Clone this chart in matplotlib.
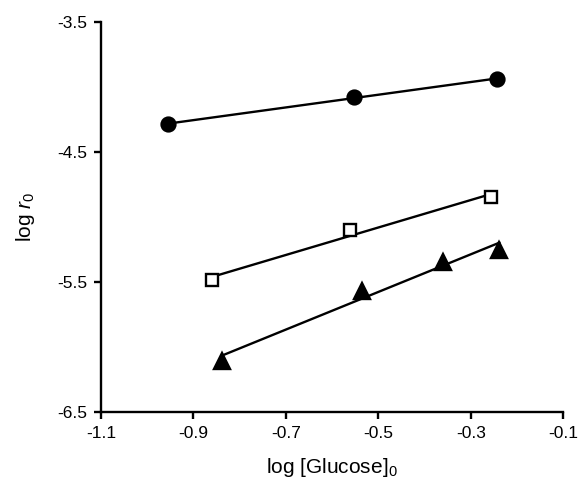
import numpy as np
import matplotlib.pyplot as plt

plt.rcParams['font.family'] = ['Liberation Sans', 'DejaVu Sans']
plt.rcParams['mathtext.fontset'] = 'custom'
plt.rcParams['mathtext.rm'] = 'Liberation Sans'
plt.rcParams['mathtext.it'] = 'Liberation Sans:italic'

# data
x_circ = [-0.955, -0.552, -0.243]
y_circ = [-4.285, -4.077, -3.938]

x_sq = [-0.860, -0.561, -0.256]
y_sq = [-5.485, -5.100, -4.846]

x_tri = [-0.839, -0.536, -0.361, -0.238]
y_tri = [-6.105, -5.569, -5.344, -5.254]

xticks = [-1.1, -0.9, -0.7, -0.5, -0.3, -0.1]
yticks = [-3.5, -4.5, -5.5, -6.5]


def serie(ax, x, y, marker, ms, face):
    x = np.array(x)
    y = np.array(y)
    a, b = np.polyfit(x, y, 1)
    xl = np.array([x.min(), x.max()])
    ax.plot(xl, a * xl + b, color='black', lw=1.7, zorder=2)
    ax.plot(x, y, ls='none', marker=marker, ms=ms, mfc=face,
            mec='black', mew=1.7, zorder=3)


fig = plt.figure(figsize=(5.83, 4.8), dpi=100)
ax = fig.add_axes([0.173, 0.142, 0.793, 0.812])

serie(ax, x_circ, y_circ, 'o', 10, 'black')
serie(ax, x_sq, y_sq, 's', 8.5, 'white')
serie(ax, x_tri, y_tri, '^', 11, 'black')

ax.set_xlim(-1.1, -0.1)
ax.set_ylim(-6.5, -3.5)
ax.set_xticks(xticks)
ax.set_yticks(yticks)
ax.set_xticklabels([str(t) for t in xticks])
ax.set_yticklabels([str(t) for t in yticks])

for s in ['top', 'right']:
    ax.spines[s].set_visible(False)
for s in ['left', 'bottom']:
    ax.spines[s].set_linewidth(1.7)
ax.tick_params(direction='out', length=5, width=1.7, labelsize=12.5, pad=5)

ax.set_xlabel('log [Glucose]$_0$', fontsize=15, labelpad=11)
ax.set_ylabel('log $\\mathit{r}_0$', fontsize=15, labelpad=14)

fig.savefig('out.png', dpi=100)
